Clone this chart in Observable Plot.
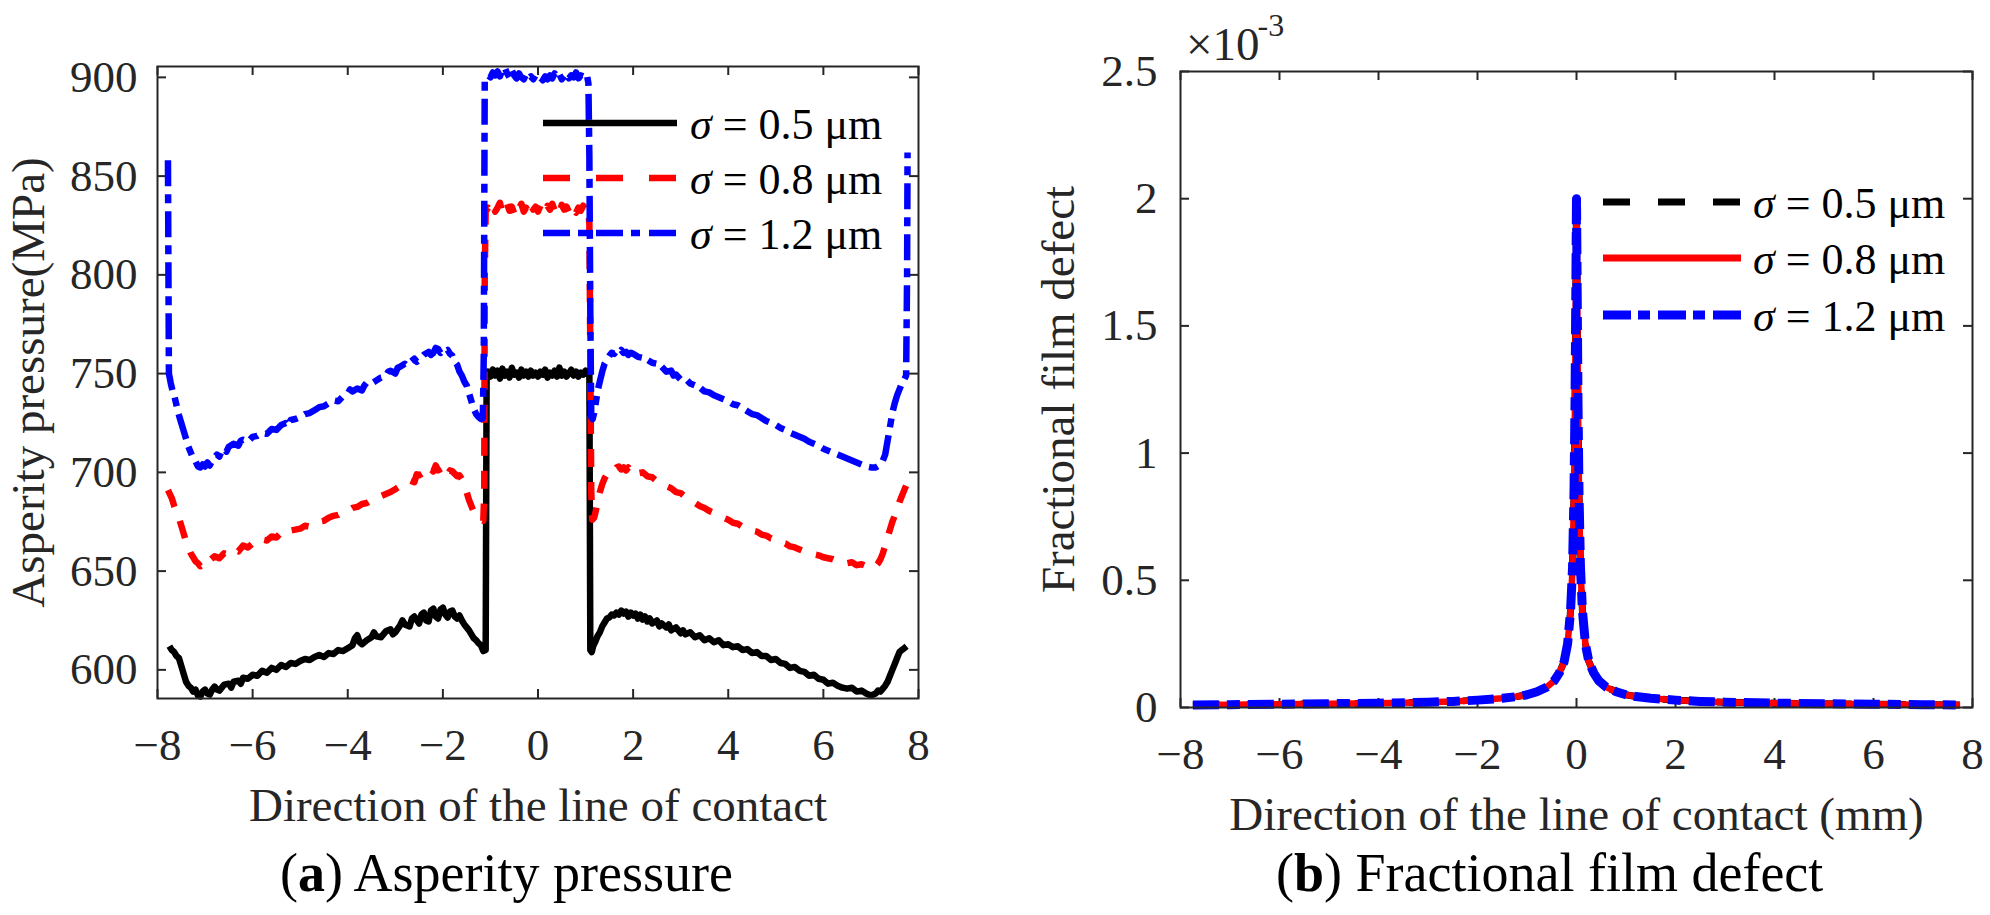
<!DOCTYPE html>
<html><head><meta charset="utf-8">
<script src="https://cdn.jsdelivr.net/npm/d3@7"></script>
<script src="https://cdn.jsdelivr.net/npm/@observablehq/plot@0.6"></script>
<style>
html,body{margin:0;padding:0;background:#fff;}
#fig{position:relative;width:1990px;height:915px;overflow:hidden;background:#fff;}
#fig > svg{position:absolute;top:0;}
</style></head><body><div id="fig"></div>
<script>
// ---------- DATA ----------
const xTicks = [-8, -6, -4, -2, 0, 2, 4, 6, 8];
const pressureTicks = [600, 650, 700, 750, 800, 850, 900];
const defectTicks = [0, 0.5, 1, 1.5, 2, 2.5];
const legendLabels = ["0.5", "0.8", "1.2"];

// Asperity pressure (MPa) vs direction of the line of contact: [x, p]
const pressure05 = [[-7.75,612],[-7.7,610],[-7.65,609],[-7.6,607],[-7.55,606],[-7.5,602],[-7.45,598],[-7.4,594],[-7.35,592],[-7.3,591],[-7.25,589],[-7.2,590],[-7.15,587],[-7.1,586.5],[-7.05,589],[-7.0,590],[-6.95,588],[-6.9,587.5],[-6.85,590],[-6.8,591.5],[-6.75,590],[-6.7,589.5],[-6.6,592.5],[-6.5,593],[-6.45,591],[-6.4,594],[-6.3,594.5],[-6.25,593],[-6.2,596],[-6.1,595.5],[-6.0,597.5],[-5.9,597],[-5.8,599.5],[-5.7,598.5],[-5.6,601],[-5.5,600],[-5.4,602.5],[-5.3,601.5],[-5.2,603.5],[-5.1,603],[-5.0,604.5],[-4.9,605.5],[-4.8,605],[-4.7,606.5],[-4.6,607.5],[-4.5,606.5],[-4.4,608.5],[-4.3,608],[-4.2,610],[-4.1,609.5],[-4.0,611],[-3.9,612.5],[-3.85,616],[-3.8,617.5],[-3.75,614],[-3.7,613],[-3.6,615],[-3.5,616.5],[-3.45,619],[-3.4,617],[-3.3,616.5],[-3.2,619.5],[-3.1,620.5],[-3.05,618],[-3.0,619],[-2.9,622.5],[-2.85,625],[-2.8,623],[-2.7,622],[-2.65,626],[-2.6,627],[-2.5,623.5],[-2.45,628],[-2.4,629],[-2.35,625],[-2.3,624.5],[-2.25,630],[-2.2,631],[-2.15,627],[-2.1,626],[-2.05,630.5],[-2.0,631.5],[-1.95,628],[-1.9,626.5],[-1.85,629.5],[-1.8,630],[-1.75,627],[-1.7,626],[-1.65,627.5],[-1.6,625],[-1.55,623],[-1.5,621.5],[-1.45,620],[-1.4,618],[-1.35,616],[-1.3,615],[-1.25,613.5],[-1.2,612.5],[-1.15,609.5],[-1.1,610],[-1.08,749],[-1.05,751],[-1.0,748.5],[-0.95,752],[-0.9,749],[-0.85,751.5],[-0.8,747.5],[-0.75,752.5],[-0.7,749],[-0.65,751],[-0.6,748],[-0.55,753],[-0.5,749.5],[-0.45,750.5],[-0.4,748],[-0.35,752],[-0.3,749],[-0.25,751],[-0.2,748.5],[-0.15,751.5],[-0.1,749],[-0.05,750.5],[0,748.5],[0.05,751],[0.1,749.5],[0.15,752],[0.2,748],[0.25,750.5],[0.3,749],[0.35,751.5],[0.4,748.5],[0.45,753],[0.5,749],[0.55,751],[0.6,748.5],[0.65,750],[0.7,752],[0.75,749],[0.8,751],[0.85,748.5],[0.9,750.5],[0.95,749.5],[1.0,751.5],[1.05,749.5],[1.08,750.5],[1.1,610],[1.13,609],[1.16,612],[1.2,614],[1.25,617],[1.3,619],[1.35,622],[1.4,624],[1.45,626],[1.5,626.5],[1.55,628],[1.6,627.5],[1.65,629],[1.7,628],[1.75,630],[1.8,628.5],[1.85,629.5],[1.9,627],[1.95,629],[2.0,627.5],[2.05,628.5],[2.1,626],[2.15,628],[2.2,625.5],[2.25,627],[2.3,624.5],[2.35,626],[2.4,623.5],[2.5,625],[2.55,622],[2.6,623.5],[2.7,621.5],[2.75,623],[2.8,620],[2.9,621.5],[3.0,618.5],[3.05,620],[3.1,618],[3.2,619],[3.3,616.5],[3.4,617.5],[3.5,615],[3.6,616],[3.7,614],[3.8,615],[3.9,612.5],[4.0,613],[4.1,611.5],[4.2,612],[4.3,610],[4.4,610.5],[4.5,608.5],[4.6,609],[4.7,607],[4.8,607],[4.9,605],[5.0,605.5],[5.1,603.5],[5.2,603],[5.3,601],[5.4,601.5],[5.5,599.5],[5.6,599],[5.7,597],[5.8,597.5],[5.9,595.5],[6.0,595],[6.1,593],[6.2,593.5],[6.3,592],[6.4,591],[6.5,590.5],[6.6,591],[6.7,589],[6.8,589.5],[6.9,588],[7.0,587],[7.05,587.5],[7.1,588],[7.15,589.5],[7.2,589],[7.25,590.5],[7.3,592],[7.35,594],[7.4,597],[7.45,600],[7.5,603],[7.55,606],[7.6,609],[7.65,610],[7.7,611],[7.75,612]];

const pressure08 = [[-7.78,691],[-7.7,687],[-7.65,683],[-7.6,680],[-7.55,677],[-7.5,673],[-7.45,669],[-7.4,665],[-7.35,662],[-7.3,659],[-7.25,657],[-7.2,655],[-7.15,654],[-7.1,652.5],[-7.05,653.5],[-7.0,655],[-6.95,654],[-6.9,655.5],[-6.8,657.5],[-6.7,656.5],[-6.6,659],[-6.5,658.5],[-6.4,661],[-6.3,660],[-6.2,663],[-6.1,662],[-6.0,664],[-5.9,663.5],[-5.8,666],[-5.7,665.5],[-5.6,667.5],[-5.5,667],[-5.4,669.5],[-5.3,668.5],[-5.2,670.5],[-5.1,671],[-5.0,671.5],[-4.9,673],[-4.8,672.5],[-4.7,674.5],[-4.6,675],[-4.5,675.5],[-4.4,677],[-4.3,678],[-4.2,678.5],[-4.1,680],[-4.0,680.5],[-3.9,682],[-3.8,682.5],[-3.7,684],[-3.6,684.5],[-3.5,686],[-3.4,686.5],[-3.3,688],[-3.2,689],[-3.1,690],[-3.0,691.5],[-2.9,693],[-2.8,694.5],[-2.7,696],[-2.6,695],[-2.55,699],[-2.5,698.5],[-2.4,700],[-2.35,703],[-2.3,702.5],[-2.2,700.5],[-2.15,703.5],[-2.1,701],[-2.0,702.5],[-1.95,699.5],[-1.9,698.5],[-1.85,701],[-1.8,700.5],[-1.7,698],[-1.65,698.5],[-1.6,696.5],[-1.55,694],[-1.5,690],[-1.45,686],[-1.4,683],[-1.35,680],[-1.3,678],[-1.25,676.5],[-1.2,676],[-1.15,675.5],[-1.13,690],[-1.12,800],[-1.1,832],[-1.05,834],[-1.0,832.5],[-0.95,835.5],[-0.9,832],[-0.85,834],[-0.8,836.5],[-0.75,831.5],[-0.7,833],[-0.65,836],[-0.6,832.5],[-0.55,834.5],[-0.5,831],[-0.45,835],[-0.4,833.5],[-0.35,836],[-0.3,832],[-0.25,834],[-0.2,831.5],[-0.15,835.5],[-0.1,833],[-0.05,834.5],[0,832],[0.05,835],[0.1,833.5],[0.15,831.5],[0.2,835],[0.25,833],[0.3,836],[0.35,832.5],[0.4,834],[0.45,831.5],[0.5,835.5],[0.55,833],[0.6,834.5],[0.65,832],[0.7,835],[0.75,833.5],[0.8,831.5],[0.85,834],[0.9,832.5],[0.95,835],[1.0,833],[1.05,834],[1.08,826],[1.1,760],[1.12,690],[1.14,676],[1.18,677],[1.22,681],[1.26,686],[1.3,690],[1.35,694],[1.4,697],[1.45,699],[1.5,700],[1.55,701.5],[1.6,701],[1.65,702.5],[1.7,703],[1.75,701.5],[1.8,702.5],[1.85,701],[1.9,702.5],[1.95,700.5],[2.0,701.5],[2.1,699.5],[2.2,700],[2.3,698],[2.4,697.5],[2.5,695.5],[2.6,695],[2.7,693],[2.8,692],[2.9,690],[3.0,689.5],[3.1,687.5],[3.2,686],[3.3,684.5],[3.4,683],[3.5,682],[3.6,680.5],[3.7,679.5],[3.8,678],[3.9,677],[4.0,676],[4.1,674.5],[4.2,674],[4.3,672.5],[4.4,672],[4.5,670.5],[4.6,670],[4.7,668.5],[4.8,668],[4.9,666.5],[5.0,666],[5.1,664.5],[5.2,664],[5.3,662.5],[5.4,662],[5.5,661],[5.6,660],[5.7,659.5],[5.8,658.5],[5.9,658],[6.0,657],[6.1,656.5],[6.2,656],[6.3,655],[6.4,655],[6.5,654],[6.6,654.5],[6.7,653],[6.8,653.5],[6.9,652.5],[7.0,652],[7.05,653],[7.1,652.5],[7.15,654],[7.2,656],[7.25,659],[7.3,663],[7.35,667],[7.4,671],[7.45,675],[7.5,678],[7.55,681],[7.6,685],[7.65,688],[7.7,691],[7.77,695]];

const pressure12 = [[-7.78,858],[-7.77,800],[-7.76,750],[-7.72,745],[-7.68,741],[-7.64,738],[-7.6,734],[-7.55,729],[-7.5,725],[-7.45,721],[-7.4,717],[-7.35,713],[-7.3,710],[-7.25,707],[-7.2,705.5],[-7.15,703],[-7.1,702.5],[-7.05,704],[-7.0,703],[-6.95,705],[-6.9,703.5],[-6.85,706],[-6.8,707.5],[-6.75,709],[-6.7,708],[-6.65,711],[-6.6,712],[-6.55,710.5],[-6.5,713],[-6.4,714.5],[-6.3,713.5],[-6.25,716],[-6.2,716.5],[-6.1,715.5],[-6.0,718],[-5.9,718.5],[-5.8,720],[-5.7,719.5],[-5.6,722],[-5.5,721.5],[-5.4,724],[-5.3,725],[-5.25,723.5],[-5.2,726.5],[-5.1,727],[-5.0,728],[-4.9,729.5],[-4.8,730],[-4.7,731.5],[-4.6,733],[-4.5,733.5],[-4.4,735],[-4.3,736.5],[-4.2,736],[-4.1,738.5],[-4.0,740],[-3.95,742],[-3.9,741],[-3.8,742.5],[-3.7,741.5],[-3.65,744],[-3.6,745.5],[-3.5,745],[-3.4,746.5],[-3.3,748],[-3.2,748.5],[-3.15,751],[-3.1,751.5],[-3.0,750],[-2.95,753],[-2.9,753.5],[-2.8,755],[-2.75,754],[-2.7,755.5],[-2.6,757.5],[-2.55,756],[-2.5,757],[-2.4,759.5],[-2.3,761],[-2.25,759.5],[-2.2,760.5],[-2.15,763],[-2.1,762.5],[-2.05,760.5],[-2.0,762],[-1.95,761.5],[-1.9,762],[-1.85,760],[-1.8,759],[-1.75,756],[-1.7,754.5],[-1.65,751],[-1.6,749],[-1.55,746],[-1.5,744],[-1.45,740],[-1.4,736],[-1.35,732],[-1.3,729.5],[-1.25,728],[-1.2,727],[-1.16,727.5],[-1.14,760],[-1.13,830],[-1.12,898],[-1.1,899],[-1.05,901],[-1.0,900],[-0.95,902.5],[-0.9,901],[-0.85,903],[-0.8,900.5],[-0.75,904],[-0.7,905],[-0.65,902],[-0.6,900],[-0.55,903.5],[-0.5,901],[-0.45,899.5],[-0.4,902],[-0.35,900],[-0.3,899],[-0.25,901.5],[-0.2,899.5],[-0.15,900.5],[-0.1,899],[-0.05,901],[0,899.5],[0.05,900],[0.1,898.5],[0.15,900.5],[0.2,899],[0.25,901],[0.3,899.5],[0.35,902],[0.4,900],[0.45,901.5],[0.5,899],[0.55,900.5],[0.6,902],[0.65,899.5],[0.7,901],[0.75,900],[0.8,902.5],[0.85,899.5],[0.9,901],[0.95,900.5],[1.0,902],[1.03,901],[1.06,897],[1.08,860],[1.1,780],[1.12,728],[1.15,727],[1.18,730],[1.22,736],[1.26,742],[1.3,746],[1.35,751],[1.4,755],[1.45,757],[1.5,759],[1.55,760.5],[1.6,760],[1.65,761.5],[1.7,760.5],[1.75,762],[1.8,760.5],[1.85,761],[1.9,759.5],[1.95,760.5],[2.0,760],[2.1,758.5],[2.2,758],[2.25,756.5],[2.3,757],[2.4,755.5],[2.5,755],[2.55,753],[2.6,753.5],[2.7,751],[2.8,751.5],[2.85,749],[2.9,749.5],[3.0,747],[3.1,747.5],[3.2,745],[3.3,744],[3.35,742.5],[3.4,743],[3.5,741],[3.6,740.5],[3.7,739],[3.8,738],[3.9,737],[4.0,736],[4.1,734.5],[4.2,734],[4.3,732.5],[4.4,731],[4.5,729.5],[4.6,729],[4.7,727.5],[4.8,726],[4.9,725],[5.0,724],[5.1,722.5],[5.2,721.5],[5.3,720],[5.4,719],[5.5,718],[5.6,717],[5.7,715.5],[5.8,714.5],[5.9,713.5],[6.0,712],[6.1,711],[6.2,710],[6.3,709],[6.4,708],[6.5,707],[6.6,706],[6.7,705],[6.8,704],[6.9,703],[7.0,702.5],[7.1,702.5],[7.2,704],[7.25,706],[7.3,709],[7.35,716],[7.4,723],[7.45,730],[7.5,735],[7.55,739],[7.6,742],[7.65,745],[7.7,747],[7.74,749],[7.76,800],[7.77,862]];

// Fractional film defect (x 10^-3) vs direction of the line of contact (mm): [x, defect]
const film05 = [[-7.75,0.010],[-7,0.011],[-6,0.013],[-5,0.015],[-4,0.017],[-3,0.021],[-2.5,0.024],[-2,0.029],[-1.5,0.036],[-1.2,0.043],[-1,0.050],[-0.8,0.062],[-0.6,0.080],[-0.45,0.105],[-0.35,0.135],[-0.25,0.180],[-0.18,0.250],[-0.12,0.380],[-0.08,0.550],[-0.05,0.850],[-0.03,1.200],[-0.015,1.600],[0,2.000],[0.015,1.600],[0.03,1.200],[0.05,0.850],[0.08,0.550],[0.12,0.380],[0.18,0.250],[0.25,0.180],[0.35,0.135],[0.45,0.105],[0.6,0.080],[0.8,0.062],[1,0.050],[1.2,0.043],[1.5,0.036],[2,0.029],[2.5,0.024],[3,0.021],[4,0.017],[5,0.015],[6,0.013],[7,0.011],[7.75,0.010]];
const film08 = [[-7.75,0.010],[-7,0.011],[-6,0.013],[-5,0.015],[-4,0.017],[-3,0.021],[-2.5,0.024],[-2,0.029],[-1.5,0.036],[-1.2,0.043],[-1,0.050],[-0.8,0.062],[-0.6,0.080],[-0.45,0.105],[-0.35,0.135],[-0.25,0.180],[-0.18,0.250],[-0.12,0.380],[-0.08,0.550],[-0.05,0.850],[-0.03,1.200],[-0.015,1.600],[0,2.000],[0.015,1.600],[0.03,1.200],[0.05,0.850],[0.08,0.550],[0.12,0.380],[0.18,0.250],[0.25,0.180],[0.35,0.135],[0.45,0.105],[0.6,0.080],[0.8,0.062],[1,0.050],[1.2,0.043],[1.5,0.036],[2,0.029],[2.5,0.024],[3,0.021],[4,0.017],[5,0.015],[6,0.013],[7,0.011],[7.75,0.010]];
const film12 = [[-7.75,0.010],[-7,0.011],[-6,0.013],[-5,0.015],[-4,0.017],[-3,0.021],[-2.5,0.024],[-2,0.029],[-1.5,0.036],[-1.2,0.043],[-1,0.050],[-0.8,0.062],[-0.6,0.080],[-0.45,0.105],[-0.35,0.135],[-0.25,0.180],[-0.18,0.250],[-0.12,0.380],[-0.08,0.550],[-0.05,0.850],[-0.03,1.200],[-0.015,1.600],[0,2.000],[0.015,1.600],[0.03,1.200],[0.05,0.850],[0.08,0.550],[0.12,0.380],[0.18,0.250],[0.25,0.180],[0.35,0.135],[0.45,0.105],[0.6,0.080],[0.8,0.062],[1,0.050],[1.2,0.043],[1.5,0.036],[2,0.029],[2.5,0.024],[3,0.021],[4,0.017],[5,0.015],[6,0.013],[7,0.011],[7.75,0.010]];

// ---------- STYLE / LAYOUT ----------
const FONT = "'Liberation Serif', 'Times New Roman', serif";
const INK = "#262626";
const fmtX = d => d < 0 ? "\u2212" + Math.abs(d) : String(d);
const fmtY = d => String(d);

function panel(o) {
  const fw = o.width - o.mL - o.mR, fh = o.height - o.mT - o.mB, tl = 9;
  const tick = {stroke: INK, strokeWidth: 2};
  return Plot.plot({
    width: o.width, height: o.height,
    marginLeft: o.mL, marginRight: o.mR, marginTop: o.mT, marginBottom: o.mB,
    x: {domain: [-8, 8]},
    y: {domain: o.yDomain},
    style: {fontFamily: FONT, background: "transparent", color: INK, overflow: "visible"},
    marks: [
      Plot.ruleX(xTicks, {x: d => d, insetTop: fh - tl, ...tick}),
      Plot.ruleX(xTicks, {x: d => d, insetBottom: fh - tl, ...tick}),
      Plot.ruleY(o.yTicks, {y: d => d, insetRight: fw - tl, ...tick}),
      Plot.ruleY(o.yTicks, {y: d => d, insetLeft: fw - tl, ...tick}),
      ...o.series.map(s => Plot.line(s.data, {
        x: d => d[0], y: d => d[1], stroke: s.color, strokeWidth: s.width,
        strokeDasharray: s.dash, strokeLinejoin: "round", strokeLinecap: "butt"
      })),
      Plot.frame({stroke: INK, strokeWidth: 2}),
      Plot.axisX(xTicks, {tickSize: 0, tickPadding: 30, tickFormat: fmtX, fontSize: 45, label: null, fill: INK}),
      Plot.axisY(o.yTicks, {tickSize: 0, tickPadding: o.yPad, tickFormat: fmtY, fontSize: 45, label: null, fill: INK}),
      Plot.text([o.xTitle], {frameAnchor: "bottom", textAnchor: "middle", lineAnchor: "middle", dy: 107, fontSize: 47, fill: INK}),
      Plot.text([o.yTitle], {frameAnchor: "left", textAnchor: "middle", lineAnchor: "middle", rotate: -90, dx: o.yTitleDx, fontSize: 47, fill: INK})
    ]
  });
}

const left = panel({
  width: 990, height: 790, mL: 157, mR: 72, mT: 66, mB: 92,
  yDomain: [585.5, 905.5], yTicks: pressureTicks, yPad: 20,
  xTitle: "Direction of the line of contact", yTitle: "Asperity pressure(MPa)", yTitleDx: -129,
  series: [
    {data: pressure05, color: "#000000", width: 6.5, dash: null},
    {data: pressure08, color: "#ff0000", width: 6.5, dash: "18,15"},
    {data: pressure12, color: "#0000ff", width: 6.5, dash: "26,8,9,8"}
  ]
});
left.style.left = "0px";

const right = panel({
  width: 1000, height: 790, mL: 190, mR: 18, mT: 71, mB: 83,
  yDomain: [0, 2.5], yTicks: defectTicks, yPad: 23,
  xTitle: "Direction of the line of contact (mm)", yTitle: "Fractional film defect", yTitleDx: -122,
  series: [
    {data: film05, color: "#000000", width: 7, dash: "27,27"},
    {data: film08, color: "#ff0000", width: 6.5, dash: null},
    {data: film12, color: "#0000ff", width: 9, dash: "26,8,13,8"}
  ]
});
right.style.left = "990px";

const fig = document.getElementById("fig");
fig.appendChild(left);
fig.appendChild(right);

// ---------- overlay: legends, exponent, captions ----------
const NS = "http://www.w3.org/2000/svg";
const ov = document.createElementNS(NS, "svg");
ov.setAttribute("width", 1990); ov.setAttribute("height", 915);
ov.style.left = "0px"; ov.style.pointerEvents = "none";
ov.setAttribute("font-family", FONT);
fig.appendChild(ov);
function el(tag, attrs, parent) {
  const e = document.createElementNS(NS, tag);
  for (const k in attrs) e.setAttribute(k, attrs[k]);
  (parent || ov).appendChild(e);
  return e;
}
function legend(x1, x2, ys, tx, styles) {
  legendLabels.forEach((lab, i) => {
    const s = styles[i];
    const ln = el("line", {x1, x2, y1: ys[i], y2: ys[i], stroke: s.color, "stroke-width": s.width});
    if (s.dash) ln.setAttribute("stroke-dasharray", s.dash);
    const t = el("text", {x: tx, y: ys[i] + 16, "font-size": 44, fill: "#000"});
    el("tspan", {"font-style": "italic"}, t).textContent = "σ";
    el("tspan", {}, t).textContent = " = " + lab + " μm";
  });
}
legend(543, 677, [123, 178, 233], 690, [
  {color: "#000000", width: 6.5, dash: null},
  {color: "#ff0000", width: 6.5, dash: "27,26"},
  {color: "#0000ff", width: 6.5, dash: "27,8,9,9"}
]);
legend(1603, 1741, [202, 258, 315], 1753, [
  {color: "#000000", width: 7, dash: "27,28"},
  {color: "#ff0000", width: 7, dash: null},
  {color: "#0000ff", width: 9, dash: "28,7,12,8"}
]);

// exponent label
const ex = el("text", {x: 1186, y: 60, "font-size": 47, fill: INK});
el("tspan", {}, ex).textContent = "×10";
el("tspan", {"font-size": 32, dy: -24, dx: -2}, ex).textContent = "-3";

// captions
function caption(x, y, letter, rest) {
  const t = el("text", {x, y, "font-size": 54, fill: "#000"});
  el("tspan", {}, t).textContent = "(";
  el("tspan", {"font-weight": "bold"}, t).textContent = letter;
  el("tspan", {}, t).textContent = ") " + rest;
}
caption(280, 891, "a", "Asperity pressure");
caption(1276, 891, "b", "Fractional film defect");
</script></body></html>
